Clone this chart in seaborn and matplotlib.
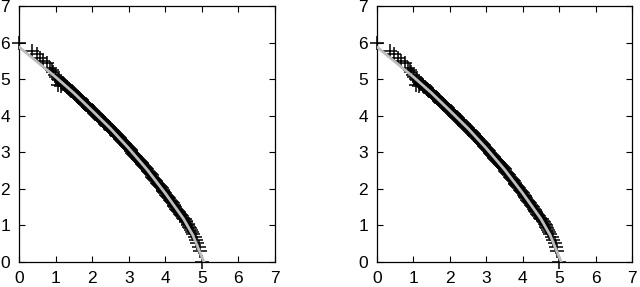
import matplotlib
matplotlib.use("Agg")
import matplotlib.pyplot as plt
import seaborn as sns
import pandas as pd

# Reference front (gray line)
front_x = [0.0, 0.5, 1.0, 1.5, 2.0, 2.5, 3.0, 3.5, 4.0, 4.5, 4.75, 5.0, 5.06]
front_y = [5.88, 5.47, 5.06, 4.62, 4.14, 3.65, 3.11, 2.53, 1.88, 1.18, 0.74, 0.14, 0.0]

# Obtained solutions (+ markers)
pts_x = [0.00, 0.36, 0.48, 0.57, 0.66, 0.76, 0.85, 0.90, 0.93, 0.98, 1.02, 1.06, 1.07,
         1.10, 1.14, 1.15, 1.17,
         1.200, 1.225, 1.250, 1.275, 1.300, 1.325, 1.350, 1.375, 1.400, 1.425, 1.450, 1.475, 1.500,
         1.525, 1.550, 1.575, 1.600, 1.625, 1.650, 1.675, 1.700, 1.725, 1.750, 1.775, 1.800,
         1.825, 1.850, 1.875, 1.900, 1.925, 1.950, 1.975, 2.000,
         2.025, 2.050, 2.075, 2.100, 2.125, 2.150, 2.175, 2.200, 2.225, 2.250, 2.275, 2.300,
         2.325, 2.350, 2.375, 2.400, 2.425, 2.450, 2.475, 2.500,
         2.525, 2.550, 2.575, 2.600, 2.625, 2.650, 2.675, 2.700, 2.725, 2.750, 2.775, 2.800,
         2.825, 2.850, 2.875, 2.900, 2.925, 2.950, 2.975, 3.000,
         3.025, 3.050, 3.075, 3.100, 3.125, 3.150, 3.175, 3.200, 3.225, 3.250, 3.275, 3.300,
         3.325, 3.350, 3.375, 3.400, 3.425, 3.450, 3.475, 3.500,
         3.525, 3.550, 3.575, 3.600, 3.625, 3.650, 3.675, 3.700, 3.725, 3.750, 3.775, 3.800,
         3.825, 3.850, 3.875, 3.900, 3.925, 3.950, 3.975, 4.000,
         4.025, 4.050, 4.075, 4.100, 4.125, 4.150, 4.175, 4.200, 4.225, 4.250, 4.275, 4.300,
         4.325, 4.350, 4.375, 4.400, 4.425, 4.450, 4.475, 4.500,
         4.53, 4.56, 4.58, 4.61, 4.63, 4.65, 4.68, 4.70, 4.73, 4.76, 4.80, 4.84, 4.88, 4.92,
         4.95, 5.00]
pts_y = [6.00, 5.78, 5.70, 5.57, 5.50, 5.43, 5.30, 5.25, 5.20, 5.12, 5.05, 5.00, 4.85,
         4.97, 4.92, 4.80, 4.88,
         4.884, 4.862, 4.840, 4.818, 4.796, 4.774, 4.752, 4.730, 4.708, 4.686, 4.664, 4.642, 4.620,
         4.596, 4.572, 4.548, 4.524, 4.500, 4.476, 4.452, 4.428, 4.404, 4.380, 4.356, 4.332,
         4.308, 4.284, 4.260, 4.236, 4.212, 4.188, 4.164, 4.140,
         4.116, 4.091, 4.067, 4.042, 4.018, 3.993, 3.969, 3.944, 3.920, 3.895, 3.871, 3.846,
         3.822, 3.797, 3.773, 3.748, 3.724, 3.699, 3.675, 3.650,
         3.623, 3.596, 3.569, 3.542, 3.515, 3.488, 3.461, 3.434, 3.407, 3.380, 3.353, 3.326,
         3.299, 3.272, 3.245, 3.218, 3.191, 3.164, 3.137, 3.110,
         3.081, 3.052, 3.023, 2.994, 2.965, 2.936, 2.907, 2.878, 2.849, 2.820, 2.791, 2.762,
         2.733, 2.704, 2.675, 2.646, 2.617, 2.588, 2.559, 2.530,
         2.498, 2.465, 2.433, 2.400, 2.368, 2.335, 2.303, 2.270, 2.238, 2.205, 2.173, 2.140,
         2.108, 2.075, 2.043, 2.010, 1.978, 1.945, 1.913, 1.880,
         1.845, 1.810, 1.775, 1.740, 1.705, 1.670, 1.635, 1.600, 1.565, 1.530, 1.495, 1.460,
         1.425, 1.390, 1.355, 1.320, 1.285, 1.250, 1.215, 1.180,
         1.17, 1.12, 1.09, 1.04, 1.00, 0.97, 0.92, 0.88, 0.83, 0.77, 0.68, 0.60, 0.51, 0.40,
         0.30, 0.00]

ticks = [0, 1, 2, 3, 4, 5, 6, 7]

sns.set_style("ticks")
plt.rcParams['font.family'] = ['Liberation Sans', 'DejaVu Sans']

fig = plt.figure(figsize=(6.4, 2.87), dpi=100)
W, H = 640, 287
axes_px = [(19, 6, 256, 256), (377, 6, 255, 256)]

pts = pd.DataFrame({"x": pts_x, "y": pts_y})
front = pd.DataFrame({"x": front_x, "y": front_y})

for (l, t, w, h) in axes_px:
    ax = fig.add_axes([l / W, 1 - (t + h) / H, w / W, h / H])
    sns.lineplot(data=pts, x="x", y="y", marker="+", markersize=10.5,
                 markeredgewidth=1.1, markeredgecolor="black", color="black",
                 linestyle="none", estimator=None, sort=False, ax=ax,
                 clip_on=False, zorder=1)
    sns.lineplot(data=front, x="x", y="y", color="#bdbdbd", linewidth=2.0,
                 estimator=None, sort=False, ax=ax, zorder=3)
    ax.set_xlim(0, 7)
    ax.set_ylim(0, 7)
    ax.set_xticks(ticks)
    ax.set_yticks(ticks)
    ax.set_xticklabels([str(v) for v in ticks])
    ax.set_yticklabels([str(v) for v in ticks])
    ax.set_xlabel("")
    ax.set_ylabel("")
    ax.tick_params(direction="in", top=True, right=True, length=4, width=0.8,
                   labelsize=12.5, colors="black", pad=6.5)
    for sp in ax.spines.values():
        sp.set_visible(True)
        sp.set_color("black")
        sp.set_linewidth(0.9)

fig.savefig("out.png", dpi=100, facecolor="white")
